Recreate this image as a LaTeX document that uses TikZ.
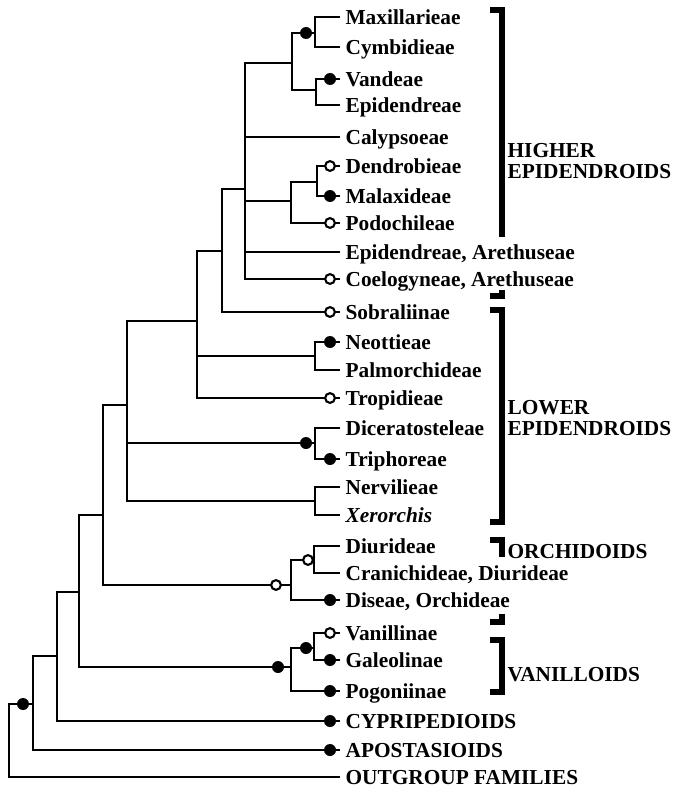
\documentclass[tikz,border=0pt]{standalone}
\usepackage{fontspec}
\setmainfont{Liberation Serif}
\usetikzlibrary{positioning, calc}
\tikzset{
  every picture/.style={x=0.75pt, y=-0.75pt, line width=0.9pt},
  taxon/.style={anchor=west, font=\fontsize{16}{16}\selectfont\bfseries, inner xsep=3.75pt, inner ysep=0pt, text height=10.6pt, text depth=0pt},
  clade/.style={anchor=west, align=left, font=\fontsize{16}{15.5}\selectfont\bfseries, inner sep=0pt},
  branch/.style={draw, line width=0.9pt},
  fdot/.style={circle, fill, inner sep=0pt, minimum size=9pt},
  odot/.style={circle, draw, fill=white, line width=1.6pt, inner sep=0pt, minimum size=7.3pt},
  bracket/.style={line width=4.5pt},
}

\begin{document}
\begin{tikzpicture}
  \useasboundingbox (0,0) rectangle (678,788);
  % terminal taxa, one row each (pixel rows of the figure)
  \foreach \n/\y/\l in {max/17/Maxillarieae, cym/47/Cymbidieae, van/79/Vandeae, epi/105/Epidendreae,
      cal/137/Calypsoeae, den/166/Dendrobieae, mal/196/Malaxideae, pod/223/Podochileae,
      epa/252/{Epidendreae, Arethuseae}, coe/279/{Coelogyneae, Arethuseae}, sob/312/Sobraliinae,
      neo/342/Neottieae, pal/370/Palmorchideae, tro/398/Tropidieae, dic/428/Diceratosteleae,
      tri/459/Triphoreae, ner/487/Nervilieae, xer/515/\textit{Xerorchis}, diu/546/Diurideae,
      cra/573/{Cranichideae, Diurideae}, dis/600/{Diseae, Orchideae}, vnl/633/Vanillinae,
      gal/660/Galeolinae, pog/691/Pogoniinae, cyp/721/CYPRIPEDIOIDS, apo/750/APOSTASIOIDS,
      out/777/OUTGROUP FAMILIES} {
    \node[taxon] (\n) at (340,\y) {\l};
  }
  % internal nodes of the tree
  \foreach \n/\x/\y in {mc/315/33, ve/316/90, hb/292/63, dm/317/182, dp/291/201, hi/245/189,
      hs/222/251, np/315/356, le/197/321, dt/315/443, nx/315/501, lo/127/405, dc/314/560,
      or/291/585, eo/103/515, vg/314/648, va/291/667, ev/79/592, cy/57/656, ap/33/704, rt/9/741} {
    \coordinate (\n) at (\x,\y);
  }
  % branches between internal nodes
  \foreach \p/\c in {hb/mc, hb/ve, dp/dm, hi/hb, hi/dp, hs/hi, le/hs, le/np, lo/le, lo/dt, lo/nx,
      eo/lo, eo/or, or/dc, ev/eo, ev/va, va/vg, cy/ev, ap/cy, rt/ap} {
    \draw[branch] (\p) |- (\c);
  }
  % branches to the terminals
  \foreach \p/\c in {mc/max, mc/cym, ve/van, ve/epi, hi/cal, dm/den, dm/mal, dp/pod, hi/epa, hi/coe,
      hs/sob, np/neo, np/pal, le/tro, dt/dic, dt/tri, nx/ner, nx/xer, dc/diu, dc/cra, or/dis,
      vg/vnl, vg/gal, va/pog, cy/cyp, ap/apo, rt/out} {
    \draw[branch] (\p) |- (\c.west);
  }
  % character states on the terminals
  \foreach \n in {van, mal, neo, tri, dis, gal, pog, cyp, apo}
    \node[fdot] (m\n) at ([xshift=-7.5pt]\n.west) {};
  \foreach \n in {den, pod, coe, sob, tro, vnl}
    \node[odot] (m\n) at ([xshift=-7.5pt]\n.west) {};
  % character states on internal branches
  \node[fdot] (mmc) at ([xshift=-6.75pt]mc) {};
  \node[fdot] (mdt) at ([xshift=-6.75pt]dt) {};
  \node[fdot] (mvg) at ([xshift=-6pt]vg) {};
  \node[fdot] (mva) at ([xshift=-9.75pt]va) {};
  \node[fdot] (map) at ([xshift=-7.5pt]ap) {};
  \node[odot] (mdc) at ([xshift=-4.5pt]dc) {};
  \node[odot] (mor) at ([xshift=-11.25pt]or) {};
  % group brackets and names
  \draw[bracket] (490,10) -| (502,237);
  \draw[bracket] (502,290) |- (490,296);
  \draw[bracket] (490,310) -| (502,522) -- (490,522);
  \draw[bracket] (490,540) -| (502,557);
  \draw[bracket] (502,614) |- (490,622);
  \draw[bracket] (490,640) -| (502,692) -- (490,692);
  \node[clade] (higher) at (507,161) {HIGHER\\EPIDENDROIDS};
  \node[clade] (lower) at (507,418) {LOWER\\EPIDENDROIDS};
  \node[clade] (orchid) at (507,552) {ORCHIDOIDS};
  \node[clade] (vanil) at (507,675) {VANILLOIDS};
\end{tikzpicture}
\end{document}
